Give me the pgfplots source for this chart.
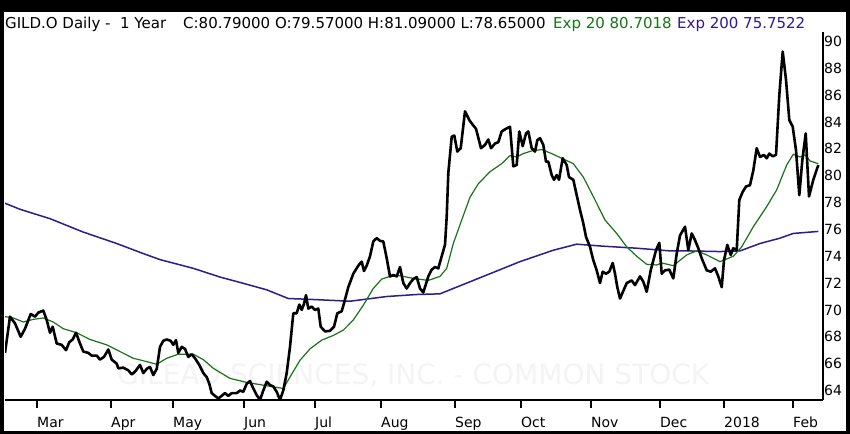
\documentclass[border=0pt]{standalone}
\usepackage{pgfplots}
\pgfplotsset{compat=1.18}
\usepackage{fontspec}
\setmainfont{DejaVu Sans}
\definecolor{emagreen}{RGB}{25,115,25}
\definecolor{emablue}{RGB}{50,25,140}
\definecolor{wm}{RGB}{244,244,244}

\pgfplotstableread{
x y
5 66.8
10 69.5
15 69.0
20.7 68.0
25 68.6
30.7 69.7
35 69.5
38.3 69.8
43.3 69.95
46.7 69.25
50 68.3
52.7 68.75
56.7 67.5
61.7 67.4
66 67.0
69.3 67.6
72.7 67.8
76 68.3
80 67.5
83.3 66.9
88.3 66.8
91.7 66.6
96.7 66.6
100 66.3
104 66.5
108.3 67.05
111.7 66.3
116.7 66.0
118.3 65.65
123.3 65.7
128.3 65.5
131.7 65.2
135 65.4
140 65.9
143.3 65.3
147.3 65.65
150 65.75
153.3 65.15
156.7 65.6
160 67.25
163.3 67.7
166.7 67.8
170.7 67.7
173.3 67.4
176 67.75
178.3 66.8
181.7 67.25
185 67.1
188.3 66.5
191.7 66.7
195 66.4
199.3 65.9
203.3 65.3
206.7 65.0
209.3 64.5
211.7 63.8
218.3 63.4
225 63.8
228.3 63.6
231.7 63.8
236.7 63.8
240 64.0
243.3 63.9
246.7 64.5
250 64.7
253.3 64.15
256.7 63.65
260 63.3
263.3 64.0
266.7 64.65
270 64.4
273.3 64.3
276.7 63.9
280 63.3
283.3 64.0
286.7 65.3
290 67.25
293.3 69.75
296.7 69.75
299.3 70.4
301.7 70.0
304 70.45
306 71.1
308.3 70.1
311.7 70.25
315 70.0
318.3 70.1
320.7 68.75
325 68.4
330 68.45
334 68.75
337.3 69.75
341.7 69.9
344 70.5
348.3 71.7
353.3 72.7
358.3 73.3
361.7 73.6
364 72.9
366.7 73.3
370 74.0
373.3 75.1
376.7 75.35
380 75.15
383.3 75.1
386.7 73.85
390 72.5
393.3 72.6
396.7 72.5
400 73.2
403.3 72.0
406.7 71.6
410 72.0
413.3 72.3
416.7 72.45
420 71.6
423.3 71.3
428.3 72.5
431.7 73.0
435 73.2
438.3 73.1
441.7 74.0
445 74.85
446.7 76.95
448.3 80.2
451.7 82.9
454.3 83.0
457.3 81.8
460.7 82.05
465 84.8
469.3 84.15
472.7 83.8
476 83.5
481 82.05
485 82.3
488.3 82.7
491 82.05
495 82.4
498.3 82.5
501.7 83.3
506 83.5
510 83.65
513.3 80.7
516.7 80.8
519.3 83.3
522.7 82.2
526 83.15
528.3 83.3
531.7 82.05
535 81.8
537.3 82.65
540 82.8
543.3 82.3
546 81.05
548.3 81.05
551.7 80.05
554 79.7
556.7 80.05
559 79.7
562.7 81.3
566.7 80.8
569 79.9
573.3 79.7
576.7 78.55
580 77.45
583.3 76.45
586 75.45
590 74.7
593.3 73.7
596.7 72.95
600 72.0
602.7 72.85
606 72.7
609.3 72.85
612.7 73.5
615 72.7
617.3 71.7
620 70.85
626.7 72.0
631.7 72.2
635 71.85
640 72.5
643.3 72.1
646.7 71.35
650.7 72.95
656 74.45
659.3 75.0
661.7 72.7
665 72.95
669.3 73.0
673.3 72.35
676.7 74.2
680 75.55
685 76.2
688.3 74.45
691.7 75.7
695 75.2
698.3 74.6
701.7 73.85
706.7 72.95
710.7 72.85
715 73.1
718.3 72.5
721.7 71.7
724 73.7
727.3 74.85
730.7 74.1
733.3 74.6
736.7 74.45
739.3 78.2
742.7 78.8
746 79.2
750 79.3
753.3 80.4
756.7 82.05
760 81.4
764 81.55
766.7 81.3
769.3 81.65
772.7 81.45
776 81.55
779.3 86.0
782.7 89.25
786 87.15
789.3 84.15
792.7 83.65
796 81.9
799.3 78.55
802.3 81.15
805.7 83.15
809 78.45
813.3 79.7
818.3 80.8
}\price

\pgfplotstableread{
x y
5 69.5
13.3 69.4
23.3 69.1
33.3 69.3
43.3 69.4
53.3 69.1
63.3 68.6
76.7 68.3
90 67.8
106.7 67.4
120 66.9
133.3 66.4
146.7 66.15
156.7 65.95
166.7 66.4
178.3 66.7
193.3 66.7
203.3 66.3
213.3 65.65
230 64.9
246.7 64.6
266.7 64.35
283.3 64.15
290 65.0
300 66.25
310 67.1
321.7 67.75
333.3 68.1
343.3 68.5
353.3 69.25
363.3 70.35
373.3 71.6
381.7 72.3
390 72.5
400 72.55
413.3 72.35
428.3 72.2
440 72.5
446.7 73.1
453.3 74.95
461.7 76.7
470 78.4
478.3 79.4
490 80.3
501.7 80.9
510 81.5
516.7 81.4
523.3 81.65
531.7 81.85
541.7 81.95
551.7 81.65
561.7 81.3
573.3 80.9
583.3 79.9
595 78.2
605 76.7
616.7 75.7
626.7 74.7
636.7 74.0
646.7 73.4
656.7 73.35
661.7 73.5
673.3 73.3
686.7 74.1
696.7 74.4
706.7 74.1
720 73.6
733.3 74.0
741.7 74.7
753.3 76.2
766.7 77.7
776.7 78.95
786.7 80.8
793.3 81.6
800 81.4
805 81.55
810 81.1
818.3 80.9
}\emaA

\pgfplotstableread{
x y
5 77.95
20 77.5
50 76.8
83.3 75.8
116.7 74.95
143.3 74.2
160 73.75
193.3 73.1
220 72.45
240 72.05
266.7 71.5
288.3 70.85
306.7 70.8
350 70.65
386.7 71.0
416.7 71.15
440 71.2
453.3 71.6
486.7 72.6
520 73.6
553.3 74.45
576.7 74.9
603.3 74.75
636.7 74.6
670 74.4
686.7 74.4
720 74.35
740 74.4
760 74.95
780 75.35
793.3 75.7
818.3 75.85
}\emaB

\begin{document}
\begin{tikzpicture}
\fill[black] (0bp,0bp) rectangle (850bp,434bp);
\fill[white] (4bp,3bp) rectangle (846bp,422bp);
\node[anchor=base west, inner sep=0pt, text=wm, font=\fontsize{28bp}{30bp}\selectfont] at (117bp,49bp) {GILEAD SCIENCES, INC. - COMMON STOCK};
\node[anchor=base west, inner sep=0pt, font=\fontsize{15bp}{17bp}\selectfont] at (5bp,405bp) {GILD.O Daily -\ \ 1 Year};
\node[anchor=base west, inner sep=0pt, font=\fontsize{15bp}{17bp}\selectfont] at (183bp,405bp) {C:80.79000 O:79.57000 H:81.09000 L:78.65000};
\node[anchor=base west, inner sep=0pt, text=emagreen, font=\fontsize{15bp}{17bp}\selectfont] at (553bp,405bp) {Exp 20 80.7018};
\node[anchor=base west, inner sep=0pt, text=emablue, font=\fontsize{15bp}{17bp}\selectfont] at (677bp,405bp) {Exp 200 75.7522};
% x axis, ticks and data
\begin{axis}[
  at={(5bp,34bp)}, anchor=south west,
  scale only axis, width=818bp, height=368bp,
  xmin=5, xmax=823, ymin=63.29, ymax=90.71,
  axis x line*=bottom, axis y line=none,
  axis line style={line width=2bp, black},
  xtick={37,111,173,244,315,381,455,521,591,660,724,793},
  xticklabels={Mar,Apr,May,Jun,Jul,Aug,Sep,Oct,Nov,Dec,2018,Feb},
  ytick=\empty,
  xtick pos=bottom,
  tick align=outside,
  major tick length=7bp,
  xtick style={draw=black, line width=2bp},
  xticklabel style={anchor=base west, inner sep=0pt, font=\fontsize{14bp}{16bp}\selectfont, yshift=-20bp},
  extra description/.code={
    \foreach \t in {0.03912,0.12958,0.20538,0.29218,0.37897,0.45966,0.55012,0.63081,0.71638,0.80073,0.87897,0.96333}{
      \draw[black, line width=2bp] (axis description cs:\t,0) -- ++(0pt,-8bp);
    }
  },
]
\addplot[emablue, line width=1.5bp, no markers] table[x=x,y=y] {\emaB};
\addplot[emagreen, line width=1.2bp, no markers] table[x=x,y=y] {\emaA};
\addplot[black, line width=2.6bp, no markers, line join=round] table[x=x,y=y] {\price};
\end{axis}
% right price axis
\begin{axis}[
  at={(5bp,34bp)}, anchor=south west,
  scale only axis, width=818bp, height=368bp,
  xmin=5, xmax=823, ymin=63.29, ymax=90.71,
  axis x line=none, axis y line*=right,
  axis line style={line width=2bp, black},
  xtick=\empty,
  ytick={64,66,...,90},
  major tick length=0pt,
  ytick style={draw=none},
  /pgf/number format/assume math mode=true,
  yticklabel style={anchor=west, inner sep=0pt, font=\fontsize{14bp}{16bp}\selectfont, xshift=1bp},
]
\end{axis}
\end{tikzpicture}
\end{document}
